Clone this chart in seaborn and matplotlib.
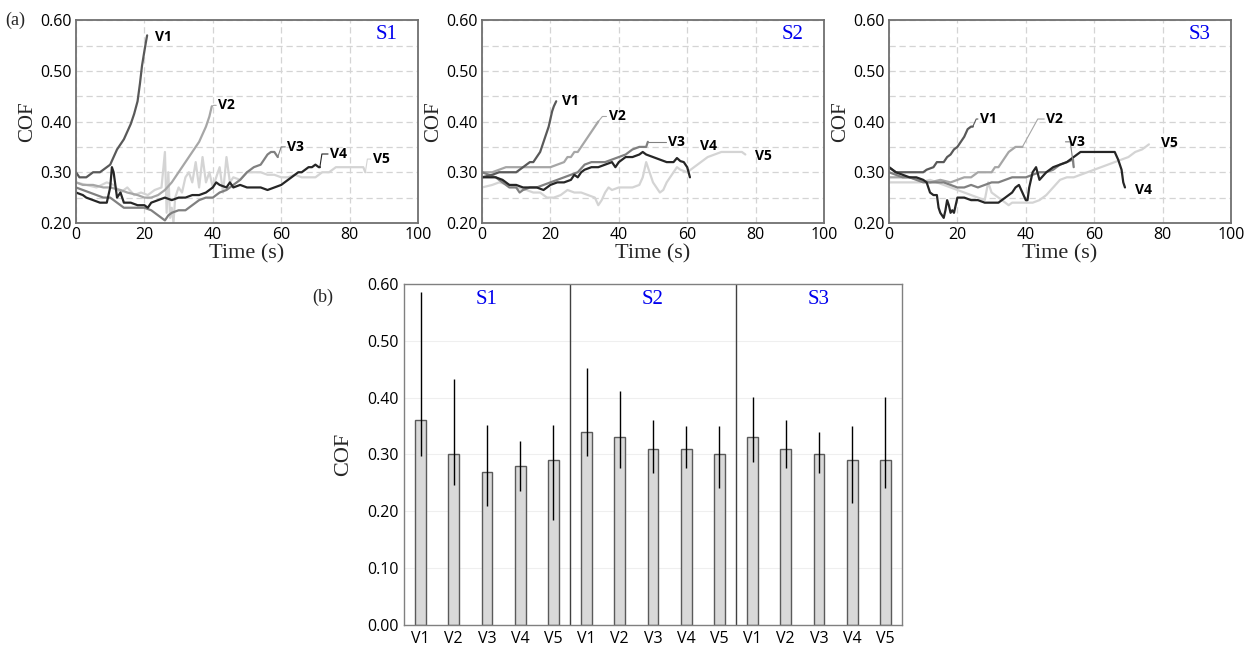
import numpy as np
import pandas as pd
import seaborn as sns
import matplotlib.pyplot as plt

# ---- time series ----
s1_v1_t = [0, 1, 3, 5, 7, 9, 10, 11, 12, 13, 14, 15, 16, 17, 18, 18.7, 19.3, 19.9, 20.4, 20.8]
s1_v1_cof = [0.30, 0.29, 0.29, 0.30, 0.30, 0.31, 0.315, 0.33, 0.345, 0.355, 0.365, 0.38, 0.395, 0.415, 0.44, 0.475, 0.51, 0.535, 0.555, 0.57]
s1_v2_t = [0, 2, 5, 8, 10, 13, 15, 18, 20, 22, 24, 26, 28, 29, 30, 31, 32, 33, 34, 35, 36, 37, 38, 39, 39.7]
s1_v2_cof = [0.28, 0.275, 0.275, 0.27, 0.27, 0.265, 0.26, 0.255, 0.25, 0.25, 0.255, 0.265, 0.28, 0.29, 0.30, 0.31, 0.32, 0.33, 0.34, 0.35, 0.36, 0.375, 0.39, 0.41, 0.43]
s1_v3_t = [0, 2, 4, 6, 8, 10, 12, 14, 16, 18, 20, 22, 24, 25, 26, 27, 28, 30, 32, 34, 36, 38, 40, 42, 44, 46, 48, 50, 52, 54, 55, 56, 57, 58, 59]
s1_v3_cof = [0.27, 0.265, 0.26, 0.255, 0.25, 0.25, 0.24, 0.23, 0.23, 0.23, 0.23, 0.225, 0.215, 0.21, 0.205, 0.215, 0.22, 0.225, 0.225, 0.235, 0.245, 0.25, 0.25, 0.26, 0.265, 0.275, 0.285, 0.30, 0.31, 0.315, 0.325, 0.335, 0.34, 0.34, 0.33]
s1_v4_t = [0, 2, 3, 5, 7, 9, 10, 10.5, 11, 12, 13, 14, 16, 18, 20, 21, 22, 24, 26, 28, 30, 32, 34, 36, 38, 39, 40, 41, 42, 44, 45, 46, 48, 50, 52, 54, 56, 58, 60, 61, 62, 63, 64, 65, 66, 67, 68, 69, 70, 71, 71.3]
s1_v4_cof = [0.26, 0.255, 0.25, 0.245, 0.24, 0.24, 0.27, 0.31, 0.30, 0.25, 0.26, 0.24, 0.24, 0.235, 0.235, 0.23, 0.24, 0.245, 0.25, 0.245, 0.25, 0.25, 0.255, 0.255, 0.26, 0.265, 0.27, 0.28, 0.275, 0.27, 0.28, 0.27, 0.275, 0.27, 0.27, 0.27, 0.265, 0.27, 0.275, 0.28, 0.285, 0.29, 0.295, 0.30, 0.30, 0.305, 0.31, 0.31, 0.315, 0.31, 0.31]
s1_v5_t = [0, 3, 6, 9, 11, 13, 15, 17, 19, 21, 23, 25, 26, 26.5, 27, 27.5, 28, 28.5, 29, 30, 31, 32, 33, 34, 35, 36, 37, 38, 39, 40, 41, 42, 43, 44, 45, 46, 48, 50, 52, 54, 56, 58, 60, 62, 64, 66, 68, 70, 72, 74, 76, 78, 80, 82, 84, 84.6]
s1_v5_cof = [0.28, 0.275, 0.27, 0.28, 0.275, 0.26, 0.27, 0.255, 0.26, 0.255, 0.265, 0.27, 0.34, 0.22, 0.30, 0.21, 0.23, 0.20, 0.25, 0.27, 0.26, 0.29, 0.30, 0.28, 0.32, 0.27, 0.33, 0.28, 0.30, 0.27, 0.29, 0.31, 0.26, 0.33, 0.28, 0.29, 0.285, 0.30, 0.30, 0.30, 0.295, 0.295, 0.29, 0.29, 0.295, 0.29, 0.29, 0.29, 0.30, 0.30, 0.31, 0.31, 0.31, 0.31, 0.31, 0.30]

s2_v1_t = [0, 3, 5, 7, 10, 12, 13, 14, 15, 16, 17, 18, 19, 19.5, 20, 20.5, 21, 21.7]
s2_v1_cof = [0.29, 0.295, 0.30, 0.30, 0.30, 0.31, 0.315, 0.32, 0.32, 0.33, 0.34, 0.36, 0.38, 0.39, 0.405, 0.42, 0.43, 0.44]
s2_v2_t = [0, 3, 5, 7, 9, 12, 15, 18, 20, 22, 24, 25, 26, 27, 28, 29, 30, 31, 32, 33, 34]
s2_v2_cof = [0.30, 0.30, 0.305, 0.31, 0.31, 0.31, 0.31, 0.31, 0.31, 0.315, 0.32, 0.33, 0.33, 0.34, 0.34, 0.35, 0.36, 0.37, 0.38, 0.39, 0.40]
s2_v3_t = [0, 2, 4, 6, 8, 10, 11, 12, 14, 16, 18, 20, 22, 24, 26, 28, 30, 32, 34, 36, 38, 40, 42, 44, 46, 48, 48.5]
s2_v3_cof = [0.30, 0.295, 0.29, 0.28, 0.27, 0.27, 0.26, 0.265, 0.27, 0.27, 0.275, 0.28, 0.285, 0.29, 0.295, 0.30, 0.315, 0.32, 0.32, 0.32, 0.325, 0.33, 0.335, 0.345, 0.35, 0.35, 0.36]
s2_v4_t = [0, 2, 4, 6, 7, 8, 10, 12, 14, 16, 18, 20, 22, 24, 26, 27, 28, 29, 30, 32, 34, 36, 38, 39, 40, 41, 42, 44, 46, 47, 48, 50, 52, 54, 56, 57, 58, 59, 60, 60.8]
s2_v4_cof = [0.29, 0.29, 0.29, 0.285, 0.28, 0.275, 0.275, 0.27, 0.27, 0.27, 0.265, 0.275, 0.28, 0.28, 0.285, 0.295, 0.29, 0.30, 0.305, 0.31, 0.31, 0.315, 0.32, 0.31, 0.32, 0.325, 0.33, 0.33, 0.335, 0.34, 0.335, 0.33, 0.325, 0.32, 0.32, 0.328, 0.322, 0.32, 0.31, 0.29]
s2_v5_t = [0, 3, 5, 8, 10, 13, 15, 17, 19, 21, 23, 25, 27, 29, 31, 33, 34, 35, 36, 37, 38, 40, 42, 44, 46, 47, 48, 49, 50, 51, 52, 53, 54, 55, 56, 57, 58, 60, 62, 64, 66, 68, 70, 72, 74, 76, 77]
s2_v5_cof = [0.27, 0.275, 0.28, 0.275, 0.27, 0.265, 0.26, 0.26, 0.25, 0.25, 0.255, 0.265, 0.26, 0.26, 0.255, 0.25, 0.235, 0.245, 0.26, 0.27, 0.265, 0.27, 0.27, 0.27, 0.275, 0.29, 0.32, 0.30, 0.28, 0.27, 0.26, 0.265, 0.28, 0.29, 0.30, 0.31, 0.305, 0.30, 0.31, 0.32, 0.33, 0.335, 0.34, 0.34, 0.34, 0.34, 0.335]

s3_v1_t = [0, 2, 4, 7, 10, 11, 13, 14, 16, 17, 18, 19, 20, 21, 22, 23, 24, 24.5]
s3_v1_cof = [0.31, 0.30, 0.30, 0.30, 0.30, 0.305, 0.31, 0.32, 0.32, 0.33, 0.335, 0.345, 0.35, 0.36, 0.37, 0.385, 0.39, 0.39]
s3_v2_t = [0, 3, 6, 9, 12, 15, 18, 20, 22, 24, 26, 28, 30, 31, 32, 33, 34, 35, 36, 37, 38, 39]
s3_v2_cof = [0.29, 0.29, 0.29, 0.285, 0.28, 0.285, 0.28, 0.285, 0.29, 0.29, 0.30, 0.30, 0.30, 0.31, 0.31, 0.32, 0.33, 0.34, 0.345, 0.35, 0.35, 0.35]
s3_v3_t = [0, 2, 4, 6, 8, 10, 12, 14, 16, 18, 20, 22, 24, 26, 28, 30, 32, 34, 36, 38, 40, 42, 44, 46, 48, 50, 52, 53.8, 54]
s3_v3_cof = [0.30, 0.295, 0.29, 0.29, 0.285, 0.28, 0.28, 0.28, 0.28, 0.275, 0.27, 0.27, 0.275, 0.27, 0.275, 0.28, 0.28, 0.285, 0.29, 0.29, 0.29, 0.295, 0.30, 0.30, 0.305, 0.315, 0.32, 0.325, 0.31]
s3_v4_t = [0, 2, 4, 6, 8, 10, 11, 12, 13, 14, 14.5, 15, 15.5, 16, 16.5, 17, 17.5, 18, 18.5, 19, 19.5, 20, 22, 24, 26, 28, 30, 32, 34, 36, 37, 38, 39, 40, 40.5, 41, 42, 43, 44, 46, 48, 50, 52, 54, 56, 58, 60, 62, 64, 66, 67, 68, 68.5, 69]
s3_v4_cof = [0.31, 0.30, 0.295, 0.29, 0.29, 0.285, 0.28, 0.26, 0.255, 0.255, 0.23, 0.22, 0.215, 0.21, 0.225, 0.245, 0.235, 0.22, 0.225, 0.22, 0.235, 0.25, 0.25, 0.245, 0.245, 0.24, 0.24, 0.24, 0.25, 0.26, 0.27, 0.275, 0.26, 0.245, 0.245, 0.27, 0.30, 0.31, 0.285, 0.30, 0.31, 0.315, 0.32, 0.33, 0.34, 0.34, 0.34, 0.34, 0.34, 0.34, 0.325, 0.305, 0.28, 0.27]
s3_v5_t = [0, 3, 6, 9, 12, 14, 16, 18, 20, 22, 24, 26, 28, 29, 30, 32, 34, 35, 36, 38, 40, 42, 44, 46, 48, 50, 52, 54, 56, 58, 60, 62, 64, 66, 68, 70, 72, 74, 76]
s3_v5_cof = [0.28, 0.28, 0.28, 0.28, 0.285, 0.28, 0.275, 0.27, 0.265, 0.26, 0.255, 0.25, 0.245, 0.28, 0.26, 0.25, 0.24, 0.235, 0.24, 0.24, 0.24, 0.24, 0.245, 0.255, 0.27, 0.285, 0.29, 0.29, 0.295, 0.30, 0.305, 0.31, 0.315, 0.32, 0.325, 0.33, 0.34, 0.345, 0.355]

# ---- panel (b): mean COF and min/max range ----
samples = ['S1', 'S2', 'S3']
variants = ['V1', 'V2', 'V3', 'V4', 'V5']
cof_mean = [0.36, 0.30, 0.27, 0.28, 0.29,
            0.34, 0.33, 0.31, 0.31, 0.30,
            0.33, 0.31, 0.30, 0.29, 0.29]
cof_low = [0.297, 0.246, 0.21, 0.236, 0.184,
           0.297, 0.277, 0.267, 0.277, 0.241,
           0.287, 0.277, 0.267, 0.215, 0.241]
cof_high = [0.586, 0.432, 0.351, 0.324, 0.351,
            0.453, 0.412, 0.36, 0.35, 0.35,
            0.401, 0.36, 0.34, 0.35, 0.401]

line_colors = {'V1': '#595959', 'V2': '#a6a6a6', 'V3': '#808080', 'V4': '#262626', 'V5': '#d4d4d4'}
draw_order = ['V5', 'V2', 'V3', 'V1', 'V4']

series = {
    'S1': {'V1': (s1_v1_t, s1_v1_cof), 'V2': (s1_v2_t, s1_v2_cof), 'V3': (s1_v3_t, s1_v3_cof),
           'V4': (s1_v4_t, s1_v4_cof), 'V5': (s1_v5_t, s1_v5_cof)},
    'S2': {'V1': (s2_v1_t, s2_v1_cof), 'V2': (s2_v2_t, s2_v2_cof), 'V3': (s2_v3_t, s2_v3_cof),
           'V4': (s2_v4_t, s2_v4_cof), 'V5': (s2_v5_t, s2_v5_cof)},
    'S3': {'V1': (s3_v1_t, s3_v1_cof), 'V2': (s3_v2_t, s3_v2_cof), 'V3': (s3_v3_t, s3_v3_cof),
           'V4': (s3_v4_t, s3_v4_cof), 'V5': (s3_v5_t, s3_v5_cof)},
}

# label placement: text x, text y, leader knee offset (None = no leader)
label_pos = {
    'S1': {'V1': (23, 0.567, None), 'V2': (41.6, 0.432, 0.6), 'V3': (61.8, 0.35, 1.0),
           'V4': (74.3, 0.336, 0.6), 'V5': (86.8, 0.326, 0.6)},
    'S2': {'V1': (23.5, 0.44, None), 'V2': (37, 0.41, 1.2), 'V3': (54.5, 0.36, 1.5),
           'V4': (63.7, 0.352, None), 'V5': (79.8, 0.332, None)},
    'S3': {'V1': (26.6, 0.405, 1.0), 'V2': (46, 0.405, 4.5), 'V3': (52.2, 0.36, -1.0),
           'V4': (72, 0.265, None), 'V5': (79.5, 0.357, None)},
}

sns.set_theme(style='white')
plt.rcParams['font.family'] = ['Open Sans', 'DejaVu Sans']
serif = ['Liberation Serif', 'DejaVu Serif']

fig = plt.figure(figsize=(12.5, 6.5), dpi=100)
lefts = [0.0608, 0.3856, 0.7112]

for i, s in enumerate(samples):
    ax = fig.add_axes([lefts[i], 0.657, 0.2736, 0.312])
    for v in draw_order:
        t, c = series[s][v]
        sns.lineplot(x=t, y=c, ax=ax, color=line_colors[v], linewidth=1.6,
                     estimator=None, sort=False)
    for v in variants:
        t, c = series[s][v]
        tx, ty, knee = label_pos[s][v]
        if knee is not None:
            ax.plot([t[-1], t[-1] + knee, tx - 0.6], [c[-1], ty, ty],
                    color=line_colors[v], linewidth=0.8)
        ax.text(tx, ty, v, fontsize=10, fontweight='bold', color='black',
                ha='left', va='center', family=['Open Sans', 'DejaVu Sans'])
    ax.set_xlim(0, 100)
    ax.set_ylim(0.2, 0.6)
    ax.set_xticks([0, 20, 40, 60, 80, 100])
    ax.set_yticks([0.2, 0.3, 0.4, 0.5, 0.6])
    ax.set_yticks([0.25, 0.35, 0.45, 0.55], minor=True)
    ax.set_yticklabels([f'{y:.2f}' for y in [0.2, 0.3, 0.4, 0.5, 0.6]])
    ax.grid(True, which='both', color='#d4d4d4', linestyle=(0, (5, 3)), linewidth=0.9)
    ax.tick_params(axis='both', which='both', labelsize=11.5, length=0, pad=3, colors='black')
    for sp in ax.spines.values():
        sp.set_color('#707070')
        sp.set_linewidth(1.3)
    ax.set_xlabel('Time (s)', family=serif, fontsize=16, labelpad=1)
    ax.set_ylabel('COF', family=serif, fontsize=15, labelpad=2)
    ax.text(0.94, 0.93, s, transform=ax.transAxes, color='#0000ee', family=serif,
            fontsize=15, ha='right', va='center')

fig.text(0.004, 0.968, '(a)', family=serif, fontsize=13, va='center')

# ---- panel (b) ----
bar_df = pd.DataFrame({
    'key': [f'{s} {v}' for s in samples for v in variants],
    'variant': [v for s in samples for v in variants],
    'cof': cof_mean,
    'low': cof_low,
    'high': cof_high,
})

axb = fig.add_axes([0.3232, 0.0385, 0.3984, 0.5246])
sns.barplot(data=bar_df, x='key', y='cof', ax=axb, color='#d9d9d9',
            edgecolor='#5a5a5a', linewidth=1.0, width=0.33, errorbar=None, saturation=1)
xpos = np.arange(len(bar_df))
axb.errorbar(xpos, bar_df['cof'],
             yerr=[bar_df['cof'] - bar_df['low'], bar_df['high'] - bar_df['cof']],
             fmt='none', ecolor='black', elinewidth=1.0, capsize=0)
axb.set_xlim(-0.5, len(bar_df) - 0.5)
axb.set_ylim(0, 0.6)
axb.set_yticks(np.arange(0, 0.61, 0.1))
axb.set_yticklabels([f'{y:.2f}' for y in np.arange(0, 0.61, 0.1)])
axb.set_xticks(xpos)
axb.set_xticklabels(bar_df['variant'])
axb.grid(True, axis='y', color='#efefef', linewidth=0.8)
axb.set_axisbelow(True)
axb.tick_params(axis='both', labelsize=11.5, length=0, pad=4, colors='black')
for sp in axb.spines.values():
    sp.set_color('#808080')
    sp.set_linewidth(1.0)
for k in range(1, len(samples)):
    axb.axvline(k * len(variants) - 0.5, color='#404040', linewidth=1.0)
for k, s in enumerate(samples):
    axb.text(k * len(variants) + 2, 0.572, s, color='#0000ee', family=serif,
             fontsize=15, ha='center', va='center')
axb.set_xlabel('')
axb.set_ylabel('COF', family=serif, fontsize=16, labelpad=10)
fig.text(0.25, 0.543, '(b)', family=serif, fontsize=13, va='center')

fig.savefig('out.png', dpi=100)
